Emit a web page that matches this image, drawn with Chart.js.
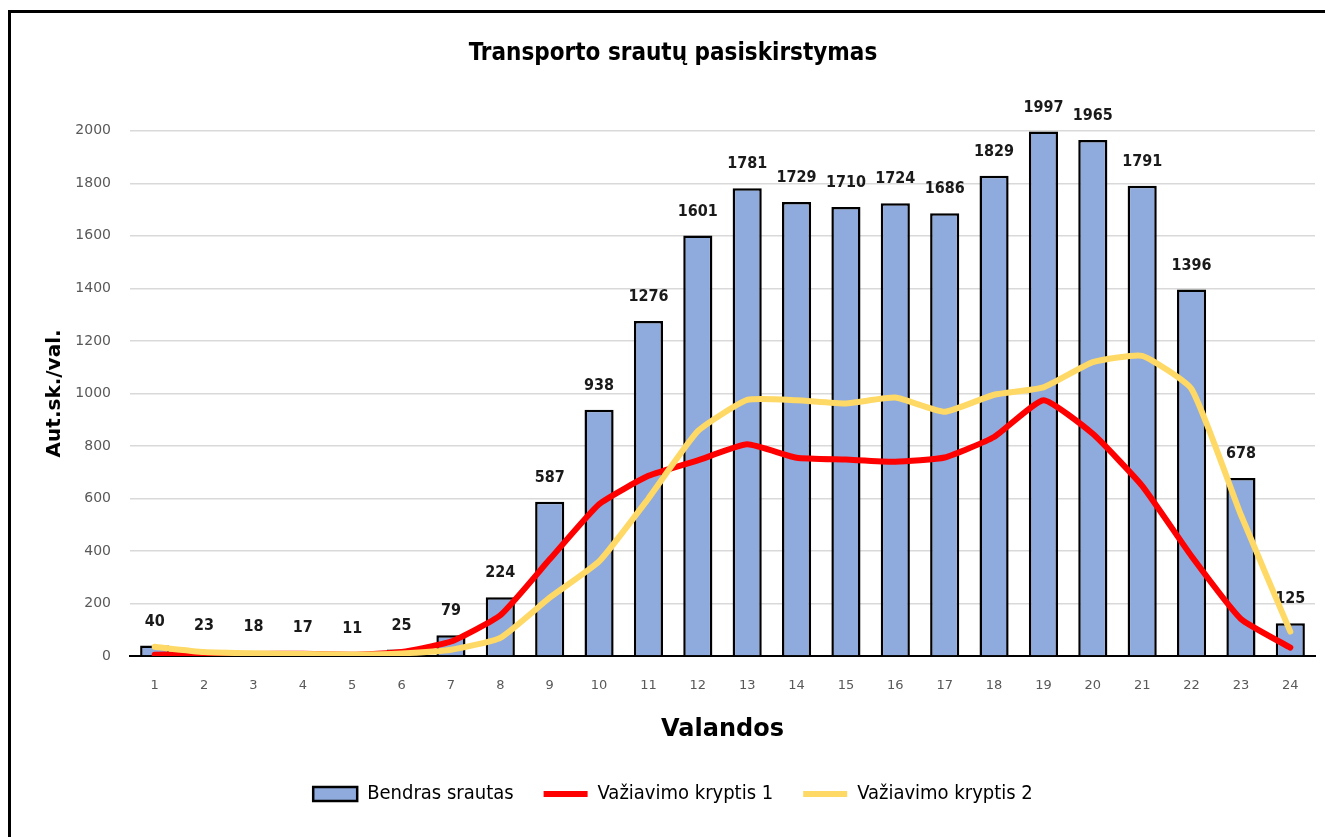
<!DOCTYPE html>
<html>
<head>
<meta charset="utf-8">
<script src="https://cdn.jsdelivr.net/npm/chart.js@4"></script>
<style>
  html, body { margin: 0; padding: 0; background: #fff; overflow: hidden; }
  #frame {
    position: absolute; left: 8px; top: 10px;
    width: 1340px; height: 840px;
    border: 3px solid #000;
  }
  canvas { display: block; }
</style>
</head>
<body>
<div id="frame"><canvas id="flowChart" width="1322" height="824"></canvas></div>
<script>
const hours = ['1','2','3','4','5','6','7','8','9','10','11','12','13','14','15','16','17','18','19','20','21','22','23','24'];
const totalFlow = [40, 23, 18, 17, 11, 25, 79, 224, 587, 938, 1276, 1601, 1781, 1729, 1710, 1724, 1686, 1829, 1997, 1965, 1791, 1396, 678, 125];
const direction1 = [5, 8, 8, 9, 5, 15, 55, 155, 368, 578, 686, 745, 806, 755, 748, 740, 756, 834, 974, 846, 648, 380, 141, 32];
const direction2 = [35, 15, 10, 8, 6, 10, 24, 69, 222, 360, 600, 856, 975, 974, 962, 984, 930, 995, 1023, 1119, 1143, 1016, 537, 93];
const yTicks = [0, 200, 400, 600, 800, 1000, 1200, 1400, 1600, 1800, 2000];

const narrow = "'Liberation Sans Narrow', 'DejaVu Sans Condensed', sans-serif";

// value labels above the bars, drawn before the lines so the lines cross them
const barLabels = {
    id: 'barLabels',
    afterDatasetDraw(chart, args) {
        if (args.index !== 0) return;
        const { ctx } = chart;
        ctx.save();
        ctx.font = "bold 16px " + narrow;
        ctx.fillStyle = '#1a1a1a';
        ctx.textAlign = 'center';
        ctx.textBaseline = 'middle';
        args.meta.data.forEach((bar, i) => {
            ctx.fillText(String(totalFlow[i]), bar.x, bar.y - 24);
        });
        ctx.restore();
    }
};

new Chart(document.getElementById('flowChart'), {
    data: {
        labels: hours,
        datasets: [
            {
                type: 'bar',
                label: 'Bendras srautas',
                data: totalFlow,
                backgroundColor: '#8FAADC',
                borderColor: '#000',
                borderWidth: 2.5,
                categoryPercentage: 1,
                barPercentage: 0.59,
                pointStyle: 'rect',
                order: 2
            },
            {
                type: 'line',
                label: 'Važiavimo kryptis 1',
                data: direction1,
                borderColor: '#FF0000',
                backgroundColor: '#FF0000',
                borderWidth: 6,
                tension: 0.15,
                pointRadius: 0,
                pointStyle: 'line',
                borderCapStyle: 'round',
                borderJoinStyle: 'round',
                order: 1
            },
            {
                type: 'line',
                label: 'Važiavimo kryptis 2',
                data: direction2,
                borderColor: '#FFD966',
                backgroundColor: '#FFD966',
                borderWidth: 6,
                tension: 0.15,
                pointRadius: 0,
                pointStyle: 'line',
                borderCapStyle: 'round',
                borderJoinStyle: 'round',
                order: 0
            }
        ]
    },
    options: {
        responsive: false,
        animation: false,
        layout: { padding: { left: 20, right: 18, top: 0, bottom: 23 } },
        plugins: {
            title: {
                display: true,
                text: 'Transporto srautų pasiskirstymas',
                color: '#000',
                font: { family: narrow, size: 24, weight: 'bold' },
                padding: { top: 26, bottom: 63 }
            },
            legend: {
                position: 'bottom',
                labels: {
                    usePointStyle: true,
                    pointStyleWidth: 44,
                    boxHeight: 14,
                    padding: 30,
                    color: '#000',
                    font: { family: narrow, size: 20 },
                    sort: (a, b) => a.datasetIndex - b.datasetIndex
                }
            },
            tooltip: { enabled: false }
        },
        scales: {
            x: {
                grid: { display: false, drawTicks: false },
                border: { display: true, color: '#000', width: 2 },
                ticks: { color: '#595959', font: { family: "'DejaVu Sans', sans-serif", size: 13 }, padding: 22 },
                title: {
                    display: true,
                    text: 'Valandos',
                    color: '#000',
                    font: { family: "'DejaVu Sans', sans-serif", size: 24, weight: 'bold' },
                    padding: { top: 34, bottom: 10 }
                },
                afterFit(scale) { scale.height = 98; }
            },
            y: {
                min: 0,
                max: 2000,
                afterBuildTicks(scale) { scale.ticks = yTicks.map(v => ({ value: v })); },
                grid: {
                    color: '#D9D9D9',
                    lineWidth: 1.5,
                    drawTicks: false
                },
                border: { display: false },
                ticks: {
                    color: '#595959',
                    font: { family: "'DejaVu Sans', sans-serif", size: 14 },
                    padding: 19,
                    callback: v => String(v)
                },
                title: {
                    display: true,
                    text: 'Aut.sk./val.',
                    color: '#000',
                    font: { family: "'DejaVu Sans', sans-serif", size: 20, weight: 'bold' },
                    padding: { top: 12, bottom: 4 }
                },
                afterFit(scale) { scale.width = 99; }
            }
        }
    },
    plugins: [barLabels]
});
</script>
</body>
</html>
